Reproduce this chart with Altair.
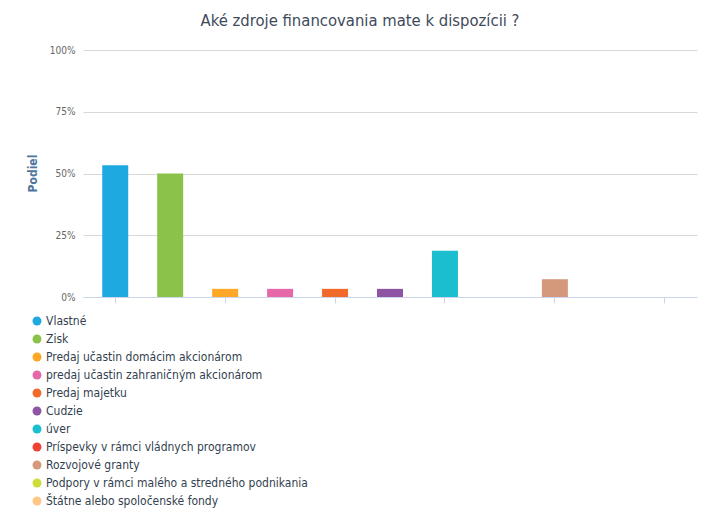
import altair as alt
import pandas as pd

categories = [
    "Vlastné",
    "Zisk",
    "Predaj učastin domácim akcionárom",
    "predaj učastin zahraničným akcionárom",
    "Predaj majetku",
    "Cudzie",
    "úver",
    "Príspevky v rámci vládnych programov",
    "Rozvojové granty",
    "Podpory v rámci malého a stredného podnikania",
    "Štátne alebo spoločenské fondy",
]
shares = [0.533, 0.50, 0.033, 0.033, 0.033, 0.033, 0.187, 0.0, 0.072, 0.0, 0.0]
colors = [
    "#1fa9e1", "#8bc34a", "#ffa726", "#e668a8", "#f26a2a", "#8e55a4",
    "#1bbecf", "#ef4136", "#d4997a", "#cddc39", "#ffc685",
]
y_ticks = [0, 0.25, 0.5, 0.75, 1.0]

df = pd.DataFrame({"kategoria": categories, "podiel": shares})

FONT = "DejaVu Sans Condensed"

chart = (
    alt.Chart(df)
    .mark_bar()
    .encode(
        x=alt.X(
            "kategoria:N",
            sort=categories,
            scale=alt.Scale(paddingInner=0.527, paddingOuter=0.35),
            axis=alt.Axis(
                title=None,
                labels=False,
                values=categories[::2],
                domainColor="#ccd6eb",
                tickColor="#ccd6eb",
                tickSize=6,
                grid=False,
            ),
        ),
        y=alt.Y(
            "podiel:Q",
            scale=alt.Scale(domain=[0, 1], nice=False),
            axis=alt.Axis(
                title="Podiel",
                values=y_ticks,
                format=".0%",
                ticks=False,
                domain=False,
                labelPadding=8,
                labelFontSize=10,
                labelColor="#666666",
                labelFont=FONT,
                gridColor="#d8d8d8",
                titleFont=FONT,
                titleFontSize=12,
                titleFontWeight="bold",
                titleColor="#4d759e",
                titleAngle=-90,
                titleAlign="center",
                titleBaseline="middle",
                titleX=-51,
                titleY=123,
            ),
        ),
        color=alt.Color(
            "kategoria:N",
            scale=alt.Scale(domain=categories, range=colors),
            legend=alt.Legend(
                title=None,
                orient="none",
                legendX=-52,
                legendY=265,
                direction="vertical",
                symbolType="circle",
                symbolSize=80,
                symbolStrokeWidth=0,
                labelFont=FONT,
                labelFontSize=12,
                labelColor="#333f4f",
                labelOffset=3,
                rowPadding=6,
                labelLimit=400,
            ),
        ),
    )
    .properties(
        width=614,
        height=247,
        title=alt.TitleParams(
            "Aké zdroje financovania mate k dispozícii ?",
            font=FONT,
            fontSize=16.5,
            fontWeight="normal",
            color="#3e4a5a",
            anchor="middle",
            dx=-30,
            offset=16,
        ),
        autosize=alt.AutoSizeParams(type="none"),
        padding={"left": 75, "top": 42, "right": 8, "bottom": 226},
    )
    .configure_view(stroke=None)
)

chart.save("out.html", embed_options={"renderer": "svg", "actions": False})
